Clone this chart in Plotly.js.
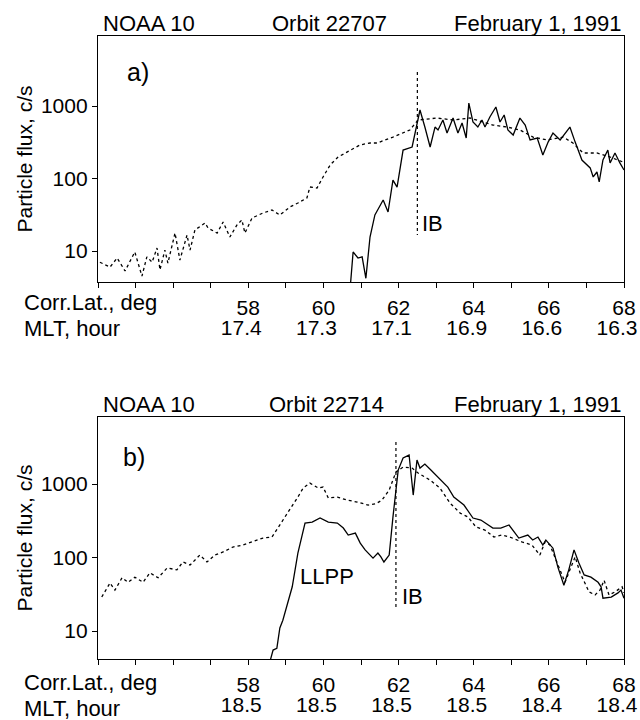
<!DOCTYPE html>
<html><head><meta charset="utf-8">
<script src="https://cdn.plot.ly/plotly-3.0.1.min.js"></script>
<style>body{margin:0;background:#fff}#plot{width:640px;height:720px}</style>
</head><body><div id="plot"></div>
<script>
// ---------- Panel a (Orbit 22707) ----------
const latDotA = [54.05,54.32,54.51,54.72,54.98,55.17,55.30,55.44,55.57,55.65,55.78,55.86,56.05,56.18,56.37,56.45,56.58,56.85,56.93,57.17,57.33,57.51,57.70,57.83,57.91,58.10,58.39,58.63,58.84,59.11,59.32,59.56,59.64,59.83,59.99,60.18,60.39,60.71,60.97,61.24,61.43,61.85,62.30,62.52,63.02,63.45,63.90,64.51,64.89,65.23,65.58,65.95,66.38,66.64,66.91,67.28,67.63,67.97];
const fluxDotA = [7.0,6.0,8.0,5.3,9.7,4.5,8.3,7.0,11,5.5,10.3,6.8,17.7,7.5,16.6,10.3,19.5,24.3,20.7,17.7,25.1,15.6,22.9,26.8,17.7,28.5,33.4,36.8,31.4,40.5,45.9,53.8,76.4,74.0,105,154,198,247,290,309,309,373,467,641,683,641,683,547,513,467,373,340,373,309,225,225,198,169];
const latSolA = [60.71,60.79,60.92,61.03,61.13,61.24,61.37,61.59,61.72,61.85,61.96,62.12,62.36,62.44,62.57,62.70,62.84,62.97,63.05,63.18,63.29,63.45,63.58,63.69,63.80,63.87,63.98,64.11,64.22,64.30,64.43,64.59,64.70,64.81,64.91,65.05,65.23,65.37,65.50,65.69,65.84,65.98,66.11,66.30,66.56,66.70,66.88,67.10,67.18,67.28,67.34,67.44,67.57,67.63,67.76,67.89,68.0];
const fluxSolA = [3.0,9.7,8.0,8.3,4.2,15.6,31.4,50.5,34.5,95,76,247,272,425,881,513,272,513,467,641,425,683,425,583,362,1100,602,513,641,513,705,969,602,752,467,398,683,547,340,362,211,318,425,340,513,318,180,140,105,123,90,180,247,164,225,164,131];
const ibA = 62.5, ibTopA = 2950, ibBotA = 16.6;

// ---------- Panel b (Orbit 22714) ----------
const latDotB = [54.10,54.32,54.45,54.64,54.80,54.98,55.20,55.38,55.60,55.84,56.10,56.26,56.45,56.71,56.90,57.11,57.33,57.59,57.86,58.12,58.39,58.63,58.84,59.11,59.32,59.46,59.64,59.86,59.99,60.13,60.37,60.63,60.90,61.19,61.40,61.56,61.75,61.93,62.12,62.36,62.52,62.84,63.10,63.37,63.64,63.85,64.06,64.30,64.54,64.75,64.96,65.28,65.55,65.76,65.90,66.03,66.27,66.43,66.56,66.70,66.83,67.07,67.23,67.36,67.47,67.60,67.76,67.95,68.0];
const fluxDotB = [29,45,36,53,46,54,46,62,53,72,68,87,79,108,87,108,119,139,148,163,184,190,277,443,665,883,1030,883,910,645,665,606,569,518,540,606,828,1460,1700,1650,1410,1130,883,551,402,355,260,236,190,202,190,163,148,108,163,148,74,46,68,102,62,34,31,36,49,31,34,40,33];
const latSolB = [58.52,58.66,58.76,58.84,58.92,59.17,59.32,59.51,59.70,59.91,60.13,60.37,60.53,60.66,60.85,60.98,61.11,61.32,61.45,61.53,61.61,61.75,61.85,61.99,62.12,62.28,62.39,62.49,62.57,62.70,62.86,63.07,63.31,63.47,63.74,63.98,64.19,64.51,64.72,64.94,65.20,65.44,65.57,65.71,65.84,65.92,66.11,66.24,66.40,66.53,66.67,66.80,66.94,67.12,67.31,67.39,67.44,67.66,67.84,67.92,68.0];
const fluxSolB = [3.0,5.5,5.8,11,14,40,115,294,304,345,304,294,252,202,215,157,127,98,115,102,87,108,355,1550,2260,2480,708,2120,1650,1870,1550,1210,910,665,518,345,324,252,252,277,184,202,173,190,148,173,134,74,42,68,127,84,58,54,46,40,28,29,33,36,28];
const ibB = 61.93, ibTopB = 3730, ibBotB = 20.6;

// ---------- Axis labels ----------
const latTicks = [58, 60, 62, 64, 66, 68];
const mltA = ['17.4', '17.3', '17.1', '16.9', '16.6', '16.3'];
const mltB = ['18.5', '18.5', '18.5', '18.5', '18.4', '18.4'];
const fluxTicks = [10, 100, 1000];

const FONT = 'Liberation Sans, Arial, sans-serif';
const solid = {color: '#000', width: 1.3};
const dotted = {color: '#000', width: 1.3, dash: 'dot'};
const ibLine = {color: '#000', width: 1.2, dash: 'dot'};

const traces = [
  {x: latDotA, y: fluxDotA, xaxis: 'x', yaxis: 'y', mode: 'lines', line: dotted},
  {x: latSolA, y: fluxSolA, xaxis: 'x', yaxis: 'y', mode: 'lines', line: solid},
  {x: [ibA, ibA], y: [ibTopA, ibBotA], xaxis: 'x3', yaxis: 'y', mode: 'lines', line: ibLine},
  {x: latDotB, y: fluxDotB, xaxis: 'x2', yaxis: 'y2', mode: 'lines', line: dotted},
  {x: latSolB, y: fluxSolB, xaxis: 'x2', yaxis: 'y2', mode: 'lines', line: solid},
  {x: [ibB, ibB], y: [ibTopB, ibBotB], xaxis: 'x4', yaxis: 'y2', mode: 'lines', line: ibLine}
];

const tickFont = {family: FONT, size: 21, color: '#000'};
function latAxis(anchor) {
  return {
    anchor: anchor, range: [54, 68], domain: [0, 1],
    tickvals: latTicks, ticktext: latTicks.map(String),
    ticks: 'outside', ticklen: 5, tickcolor: '#000', tickwidth: 1,
    minor: {dtick: 1, tick0: 54, ticks: 'outside', ticklen: 5, tickcolor: '#000'},
    showline: true, linecolor: '#000', linewidth: 1.2, mirror: true,
    showgrid: false, zeroline: false, ticklabeloverflow: 'allow',
    ticklabelstandoff: 2, tickfont: tickFont
  };
}
function mltAxis(mlt, anchor, over) {
  return {
    anchor: anchor, overlaying: over, side: 'bottom', range: [54, 68], domain: [0, 1],
    tickvals: latTicks, ticktext: mlt,
    ticks: '', showline: false, showgrid: false, zeroline: false,
    ticklabeloverflow: 'allow', ticklabelstandoff: 31, ticklabelshift: -7, tickfont: tickFont
  };
}
function yax(range, domain, anchor) {
  return {
    anchor: anchor, type: 'log', range: range, domain: domain,
    tickvals: fluxTicks, ticktext: fluxTicks.map(String),
    ticks: 'outside', ticklen: 5, tickcolor: '#000',
    showline: true, linecolor: '#000', linewidth: 1.2, mirror: true,
    showgrid: false, zeroline: false, tickfont: tickFont,
    title: {text: 'Particle flux, c/s', font: {family: FONT, size: 21, color: '#000'}, standoff: 2}
  };
}

const tf = {family: FONT, size: 22, color: '#000'};
function ann(text, x, y, xanchor, extra) {
  return Object.assign({text: text, x: x, y: y, xref: 'paper', yref: 'paper', xanchor: xanchor, yanchor: 'middle', showarrow: false, font: tf}, extra || {});
}
const annotations = [
  ann('NOAA 10', 0.006, 1.0, 'left', {yanchor: 'bottom', yshift: -2}),
  ann('Orbit 22707', 0.441, 1.0, 'center', {yanchor: 'bottom', yshift: -2}),
  ann('February 1, 1991', 1.0, 1.0, 'right', {yanchor: 'bottom', yshift: -2}),
  ann('NOAA 10', 0.006, 0.3884, 'left', {yanchor: 'bottom', yshift: -2}),
  ann('Orbit 22714', 0.434, 0.3884, 'center', {yanchor: 'bottom', yshift: -2}),
  ann('February 1, 1991', 1.0, 0.3884, 'right', {yanchor: 'bottom', yshift: -2}),
  ann('Corr.Lat., deg', -0.145, 0.573, 'left'),
  ann('MLT, hour', -0.145, 0.531, 'left'),
  ann('Corr.Lat., deg', -0.145, -0.0385, 'left'),
  ann('MLT, hour', -0.145, -0.080, 'left'),
  ann('a)', 0.076, 0.942, 'center', {font: {family: FONT, size: 25, color: '#000'}}),
  ann('b)', 0.068, 0.324, 'center', {font: {family: FONT, size: 25, color: '#000'}}),
  {text: 'IB', x: 62.89, y: 1.386, xref: 'x', yref: 'y', showarrow: false, font: tf},
  {text: 'IB', x: 62.36, y: 1.463, xref: 'x2', yref: 'y2', showarrow: false, font: tf},
  {text: 'LLPP', x: 60.10, y: 1.748, xref: 'x2', yref: 'y2', showarrow: false, font: tf}
];

const layout = {
  width: 640, height: 720,
  margin: {l: 98, r: 16, t: 36, b: 61},
  paper_bgcolor: '#fff', plot_bgcolor: '#fff',
  showlegend: false,
  font: {family: FONT, color: '#000'},
  xaxis: latAxis('y'),
  yaxis: yax([0.572, 3.966], [0.6051, 1], 'x'),
  xaxis2: latAxis('y2'),
  yaxis2: yax([0.619, 3.912], [0, 0.3884], 'x2'),
  xaxis3: mltAxis(mltA, 'y', 'x'),
  xaxis4: mltAxis(mltB, 'y2', 'x2'),
  annotations: annotations
};

Plotly.newPlot('plot', traces, layout, {displayModeBar: false, staticPlot: true});
</script></body></html>
